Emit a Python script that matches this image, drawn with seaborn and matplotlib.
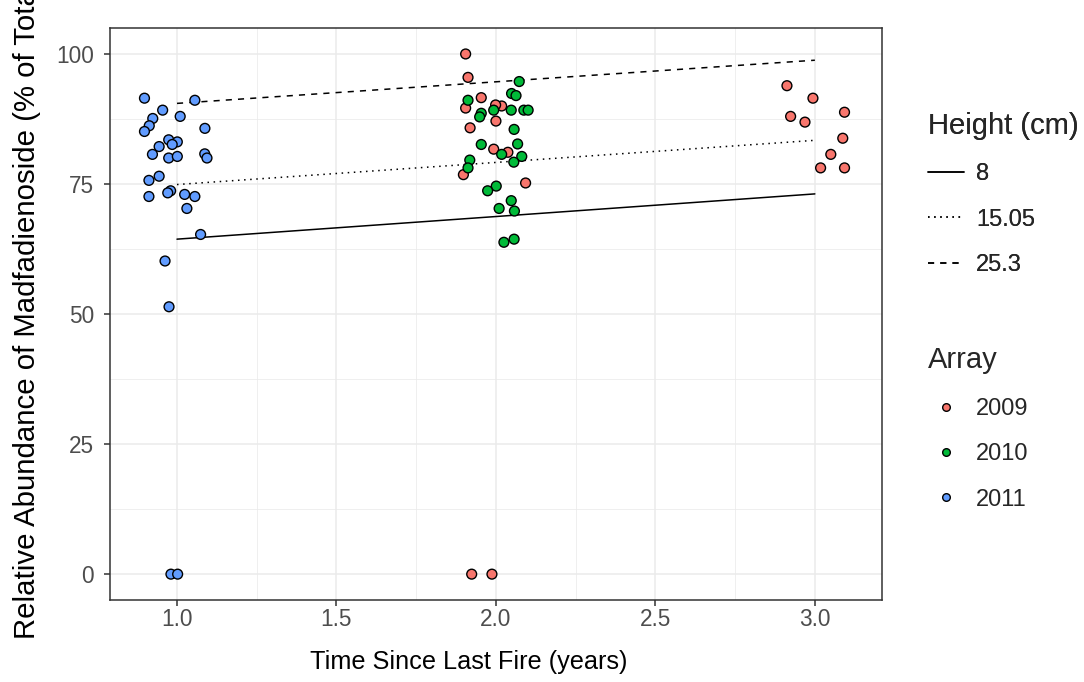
import numpy as np
import pandas as pd
import matplotlib
matplotlib.use("Agg")
import matplotlib.pyplot as plt
from matplotlib.lines import Line2D
import seaborn as sns

# Observations: time since last fire (years, jittered) and relative abundance (%)
x_2009 = [1.905, 1.9125, 1.954, 1.905, 2.018, 1.999, 2.0, 1.919, 1.993, 2.0375,
          1.898, 2.093, 1.924, 1.9875,
          2.9125, 2.994, 2.924, 2.969, 3.093, 3.0875, 3.05, 3.018, 3.093]
y_2009 = [100.0, 95.5, 91.6, 89.6, 90.0, 90.2, 87.1, 85.8, 81.7, 81.1,
          76.8, 75.2, 0.0, 0.0,
          93.9, 91.5, 88.0, 86.9, 88.8, 83.8, 80.7, 78.1, 78.1]

x_2010 = [2.073, 2.049, 2.063, 1.9125, 1.954, 1.949, 1.993, 2.048, 2.0875, 2.101,
          2.057, 1.954, 2.068, 2.018, 2.081, 2.056, 1.918, 1.9125, 2.001, 1.974,
          2.048, 2.010, 2.058, 2.025, 2.057]
y_2010 = [94.7, 92.4, 92.0, 91.1, 88.6, 87.9, 89.2, 89.2, 89.2, 89.2,
          85.5, 82.6, 82.7, 80.7, 80.3, 79.2, 79.6, 78.1, 74.6, 73.7,
          71.8, 70.3, 69.8, 63.8, 64.4]

x_2011 = [0.898, 1.056, 0.955, 1.010, 0.924, 0.913, 1.0875, 0.898, 0.974, 1.001,
          0.985, 0.944, 0.923, 1.087, 1.094, 0.974, 1.001, 0.944, 0.912, 0.980,
          0.971, 0.912, 1.024, 1.056, 1.031, 1.074, 0.9625, 0.975, 0.981, 1.002]
y_2011 = [91.5, 91.1, 89.2, 88.0, 87.6, 86.2, 85.7, 85.1, 83.5, 83.1,
          82.6, 82.2, 80.7, 80.8, 80.0, 80.0, 80.3, 76.5, 75.7, 73.7,
          73.3, 72.6, 73.0, 72.6, 70.3, 65.3, 60.2, 51.4, 0.0, 0.0]

arrays = ["2009", "2010", "2011"]
array_colors = ["#F8766D", "#00BA38", "#619CFF"]

# Model predictions at three plant heights
heights = ["8", "15.05", "25.3"]
fit_x = [1.0, 3.0]
fit_8 = [64.4, 73.1]
fit_15 = [74.9, 83.4]
fit_25 = [90.5, 98.8]
height_dashes = [(None, None), (1, 3), (4, 4)]

points = pd.DataFrame({
    "time": x_2009 + x_2010 + x_2011,
    "abundance": y_2009 + y_2010 + y_2011,
    "Array": ["2009"] * len(x_2009) + ["2010"] * len(x_2010) + ["2011"] * len(x_2011),
})
fits = pd.DataFrame({
    "time": fit_x * 3,
    "abundance": fit_8 + fit_15 + fit_25,
    "Height": [h for h in heights for _ in fit_x],
})

sns.set_theme(style="white")
plt.rcParams["font.family"] = ["Liberation Sans", "DejaVu Sans"]

fig = plt.figure(figsize=(10.84, 6.82), dpi=100)
ax = fig.add_axes([0.1015, 0.120, 0.712, 0.839])

# Grid (theme_bw look)
ax.set_xlim(0.79, 3.21)
ax.set_ylim(-5, 105)
ax.set_xticks([1.0, 1.5, 2.0, 2.5, 3.0])
ax.set_xticks([1.25, 1.75, 2.25, 2.75], minor=True)
ax.set_yticks([0, 25, 50, 75, 100])
ax.set_yticks([12.5, 37.5, 62.5, 87.5], minor=True)
ax.grid(which="major", color="#EBEBEB", linewidth=1.1)
ax.grid(which="minor", color="#EBEBEB", linewidth=0.55)
ax.set_axisbelow(True)

for h, d in zip(heights, height_dashes):
    sub = fits[fits["Height"] == h]
    line, = ax.plot(sub["time"], sub["abundance"], color="black", linewidth=1.1)
    if d[0] is not None:
        line.set_dashes(d)

sns.scatterplot(data=points, x="time", y="abundance", hue="Array",
                hue_order=arrays, palette=array_colors, s=50,
                edgecolor="black", linewidth=1.0, legend=False, ax=ax, zorder=3)

ax.set_xticklabels(["1.0", "1.5", "2.0", "2.5", "3.0"])
ax.set_xlabel("Time Since Last Fire (years)", fontsize=18.2, color="black")
ax.set_ylabel("Relative Abundance of Madfadienoside (% of Total)", fontsize=21.2,
              color="black")
ax.xaxis.set_label_coords(0.4644, -0.087)
ax.yaxis.set_label_coords(-0.089, 0.5145)
ax.tick_params(axis="both", which="major", labelsize=16.3, labelcolor="#4D4D4D",
               length=4, width=1.1, color="#333333", direction="out",
               bottom=True, left=True)
ax.tick_params(axis="x", which="major", pad=1.5)
ax.tick_params(axis="y", which="major", pad=7.5)
ax.tick_params(which="minor", length=0)
for s in ax.spines.values():
    s.set_color("#333333")
    s.set_linewidth(1.1)

# Legends
legend_kw = dict(loc="upper left", frameon=False, fontsize=17, title_fontsize=21,
                 handlelength=1.53, handletextpad=0.5, labelspacing=0.99,
                 alignment="left", borderaxespad=0, borderpad=0)
height_handles = [Line2D([], [], color="black", linewidth=1.1) for _ in heights]
for hdl, d in zip(height_handles, height_dashes):
    if d[0] is not None:
        hdl.set_dashes(d)
leg1 = fig.legend(height_handles, heights, title="Height (cm)",
                  bbox_to_anchor=(0.856, 0.836), **legend_kw)
array_handles = [Line2D([], [], linestyle="none", marker="o", markersize=5.5,
                        markerfacecolor=c, markeredgecolor="black", markeredgewidth=1.0)
                 for c in array_colors]
leg2 = fig.legend(array_handles, arrays, title="Array",
                  bbox_to_anchor=(0.856, 0.492), **legend_kw)
fig.add_artist(leg1)

fig.savefig("out.png", dpi=100)
